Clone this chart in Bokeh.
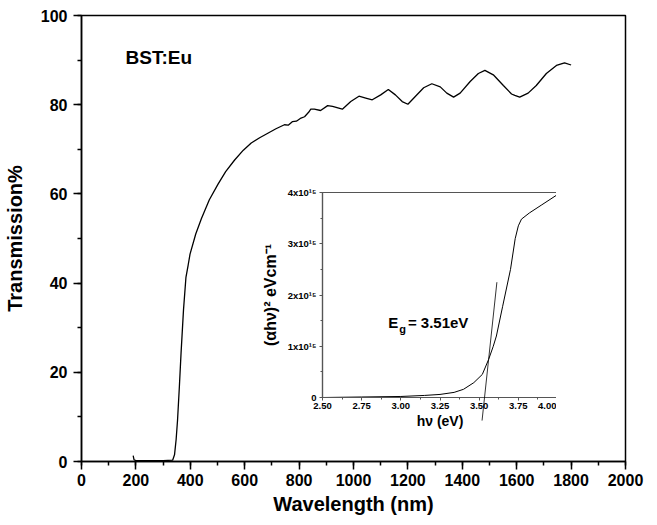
from bokeh.plotting import figure
from bokeh.layouts import column
from bokeh.models import (SingleIntervalTicker, FixedTicker, Label,
                          PrintfTickFormatter, Range1d)
from bokeh.embed import file_html
from bokeh.resources import INLINE

# ---- main spectrum data (wavelength nm, transmission %) ----
wavelength = [190, 193, 200, 250, 300, 335, 342, 348, 353, 360, 366, 375, 384, 392,
              399, 420, 441, 470, 502, 530, 563, 595, 624, 655, 685, 715, 746, 760,
              775, 790, 807, 820, 835, 843, 856, 879, 905, 923, 959, 990, 1020, 1045,
              1069, 1100, 1128, 1154, 1179, 1200, 1228, 1258, 1288, 1319, 1343, 1368,
              1392, 1429, 1459, 1483, 1514, 1551, 1581, 1593, 1611, 1642, 1672, 1709,
              1746, 1776, 1800]
transmission = [1.3, 0.4, 0.2, 0.2, 0.2, 0.3, 1.5, 5.0, 9.2, 17.0, 24.3, 34.0, 41.3, 44.0,
                46.5, 51.0, 54.5, 58.7, 62.2, 65.0, 67.6, 69.8, 71.4, 72.6, 73.6, 74.6,
                75.5, 75.4, 76.2, 76.3, 77.0, 77.3, 78.3, 79.0, 79.0, 78.7, 79.8, 79.6,
                79.0, 80.7, 81.9, 81.5, 81.1, 82.2, 83.4, 82.2, 80.7, 80.1, 81.9, 83.8,
                84.7, 84.0, 82.6, 81.7, 82.6, 85.2, 87.0, 87.7, 86.7, 84.3, 82.4, 82.1,
                81.7, 82.6, 84.3, 87.0, 88.8, 89.4, 88.9]

# ---- inset Tauc plot data (photon energy eV, (alpha h nu)^2 in 1e15 units) ----
energy = [2.50, 2.75, 3.00, 3.15, 3.25, 3.34, 3.40, 3.466, 3.52, 3.56, 3.59, 3.61,
          3.65, 3.70, 3.73, 3.75, 3.77, 3.82, 3.90, 4.00]
tauc = [0.0, 0.01, 0.02, 0.04, 0.06, 0.10, 0.16, 0.29, 0.45, 0.74, 1.0, 1.2,
        1.78, 2.5, 3.1, 3.35, 3.48, 3.6, 3.76, 3.96]
tangent_energy = [3.495, 3.66]
tangent_tauc = [-0.45, 2.25]

inset_yticks = [0, 1, 2, 3, 4]
inset_ylabels = ["0", "1x10¹⁵", "2x10¹⁵", "3x10¹⁵", "4x10¹⁵"]
inset_xticks = [2.50, 2.75, 3.00, 3.25, 3.50, 3.75, 4.00]

FONT = "Liberation Sans"

# ---------------- main figure ----------------
p = figure(width=644, height=518, x_range=(0, 2000), y_range=(0, 100),
           output_backend="svg", toolbar_location=None,
           min_border_left=79, min_border_right=19, min_border_top=15, min_border_bottom=57)
p.grid.visible = False
p.outline_line_color = "black"
p.outline_line_width = 1.5

p.line(wavelength, transmission, line_color="black", line_width=1.3)

p.xaxis.ticker = SingleIntervalTicker(interval=200, num_minor_ticks=2)
p.yaxis.ticker = SingleIntervalTicker(interval=20, num_minor_ticks=2)
for ax in (p.xaxis[0], p.yaxis[0]):
    ax.axis_line_width = 1.5
    ax.major_tick_line_width = 1.5
    ax.minor_tick_line_width = 1.5
    ax.major_tick_in = 0
    ax.major_tick_out = 8
    ax.minor_tick_in = 0
    ax.minor_tick_out = 4
    ax.major_label_text_font = FONT
    ax.major_label_text_font_style = "bold"
    ax.major_label_text_font_size = "16px"
    ax.major_label_text_color = "black"
    ax.axis_label_text_font = FONT
    ax.axis_label_text_font_style = "bold"
    ax.axis_label_text_font_size = "20px"
    ax.axis_label_text_color = "black"
p.xaxis.axis_label = "Wavelength (nm)"
p.yaxis.axis_label = "Transmission%"
p.xaxis.major_label_standoff = 4
p.xaxis.axis_label_standoff = 4
p.yaxis.major_label_standoff = 6
p.yaxis.axis_label_standoff = 12

p.add_layout(Label(x=162, y=88.3, text="BST:Eu", text_font=FONT, text_font_style="bold",
                   text_font_size="19px", text_color="black"))

# ---------------- inset figure (axes + curve) ----------------
q = figure(frame_width=235, frame_height=205, x_range=Range1d(2.5, 4.0), y_range=Range1d(0, 4),
           output_backend="svg", toolbar_location=None,
           min_border_left=70, min_border_right=10, min_border_top=10, min_border_bottom=40)
q.grid.visible = False
q.outline_line_color = "#555555"
q.outline_line_width = 1.2
q.background_fill_alpha = 0
q.border_fill_alpha = 0

q.line(energy, tauc, line_color="black", line_width=1.0)

q.xaxis.ticker = FixedTicker(ticks=inset_xticks,
                             minor_ticks=[2.625, 2.875, 3.125, 3.375, 3.625, 3.875])
q.xaxis.formatter = PrintfTickFormatter(format="%.2f")
q.yaxis.ticker = FixedTicker(ticks=inset_yticks, minor_ticks=[0.5, 1.5, 2.5, 3.5])
q.yaxis.major_label_overrides = {float(t): s for t, s in zip(inset_yticks, inset_ylabels)}
q.xaxis.axis_label = "hν (eV)"
q.yaxis.axis_label = "(αhν)² eVcm⁻¹"
for ax in (q.xaxis[0], q.yaxis[0]):
    ax.axis_line_color = "#555555"
    ax.axis_line_width = 1.2
    ax.major_tick_line_color = "#555555"
    ax.minor_tick_line_color = "#555555"
    ax.major_tick_in = 0
    ax.major_tick_out = 3
    ax.minor_tick_in = 0
    ax.minor_tick_out = 2
    ax.major_label_text_font = FONT
    ax.major_label_text_font_style = "bold"
    ax.major_label_text_font_size = "9.5px"
    ax.major_label_text_color = "black"
    ax.axis_label_text_font = FONT
    ax.axis_label_text_font_style = "bold"
    ax.axis_label_text_color = "black"
q.xaxis.axis_label_text_font_size = "14px"
q.yaxis.axis_label_text_font_size = "16px"
q.xaxis.major_label_standoff = 2
q.xaxis.axis_label_standoff = 1
q.yaxis.major_label_standoff = 3
q.yaxis.axis_label_standoff = 6

q.add_layout(Label(x=2.92, y=1.29, text="E", text_font=FONT, text_font_style="bold",
                   text_font_size="15px", text_color="black"))
q.add_layout(Label(x=2.99, y=1.22, text="g", text_font=FONT, text_font_style="bold",
                   text_font_size="11px", text_color="black"))
q.add_layout(Label(x=3.045, y=1.29, text="= 3.51eV", text_font=FONT, text_font_style="bold",
                   text_font_size="15px", text_color="black"))

# ---------------- overlay for the tangent (extends below the inset axis) ----------------
t = figure(width=235, height=246, x_range=Range1d(2.5, 4.0), y_range=Range1d(-0.8, 4.0),
           output_backend="svg", toolbar_location=None, min_border=0,
           x_axis_location=None, y_axis_location=None)
t.grid.visible = False
t.outline_line_color = None
t.background_fill_alpha = 0
t.border_fill_alpha = 0
t.line(tangent_energy, tangent_tauc, line_color="black", line_width=0.8)

q.styles = {"position": "absolute", "left": "241px", "top": "182px"}
t.styles = {"position": "absolute", "left": "311px", "top": "192px"}

layout = column(p, q, t, width=644, height=518)
layout.styles = {"position": "relative"}

html = file_html(layout, INLINE)
html = html.replace("</head>", "<style>html, body { overflow: hidden; }</style></head>", 1)
open("out.html", "w").write(html)
